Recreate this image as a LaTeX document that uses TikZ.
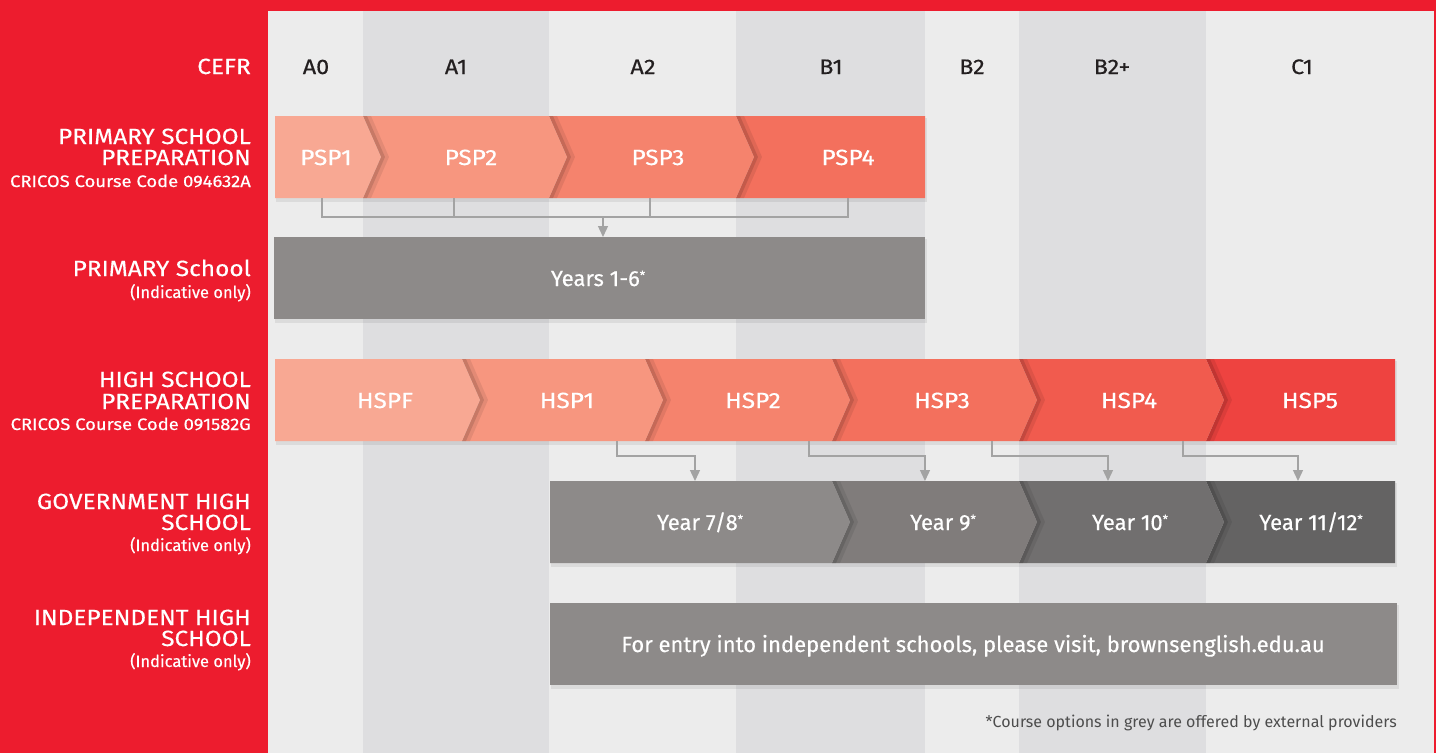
\documentclass[tikz,border=0pt]{standalone}
\usepackage{fontspec}
\setmainfont{Fira Sans}[FakeBold=0.4]
\newfontfamily\capsf{Fira Sans}[FakeStretch=1.11,FakeBold=0.4]
\newfontfamily\notef{Fira Sans}
\usetikzlibrary{arrows.meta}
\definecolor{redbg}{RGB}{237,28,46}
\definecolor{lightcol}{RGB}{236,236,236}
\definecolor{darkcol}{RGB}{222,222,224}
\definecolor{sa}{RGB}{248,168,147}
\definecolor{sb}{RGB}{247,150,127}
\definecolor{sc}{RGB}{245,131,109}
\definecolor{sd}{RGB}{243,112,93}
\definecolor{se}{RGB}{241,91,78}
\definecolor{sf}{RGB}{238,67,64}
\definecolor{ga}{RGB}{141,138,137}
\definecolor{gb}{RGB}{128,124,123}
\definecolor{gc}{RGB}{113,111,111}
\definecolor{gd}{RGB}{100,99,99}
\definecolor{conncol}{RGB}{163,163,163}
\definecolor{coltxt}{RGB}{35,31,32}
\definecolor{notetxt}{RGB}{77,77,77}
\newcommand\chevseg[7]{%
  \fill[#7] (#1,#3) -- (#2,#3) -- ({#2+#6},{(#3+#4)/2}) -- (#2,#4) -- (#1,#4) -- ({#1+#5},{(#3+#4)/2}) -- cycle;}
\newcommand\chevshadow[4]{%
  \fill[black,opacity=.08] (#1,#2) -- ({#1+8},#2) -- ({#1+#4+8},{(#2+#3)/2}) -- ({#1+8},#3) -- (#1,#3) -- cycle;
  \fill[black,opacity=.12] (#1,#2) -- ({#1+4},#2) -- ({#1+#4+4},{(#2+#3)/2}) -- ({#1+4},#3) -- (#1,#3) -- cycle;}
\newcommand\barshadow[4]{%
  \fill[black,opacity=.07] ({#1+1},{#2+2}) rectangle ({#3+2},{#4+4});}
\newcommand\sast{\raisebox{6.5pt}{\fontsize{12}{12}\selectfont*}}
\tikzset{
  lbl/.style={text=white,anchor=base east,inner sep=0,font=\capsf\fontsize{22}{22}\selectfont},
  lblsub/.style={text=white,anchor=base east,inner sep=0,font=\fontsize{16.5}{16.5}\selectfont},
  lblcode/.style={text=white,anchor=base east,inner sep=0,font=\capsf\fontsize{16.6}{16.6}\selectfont},
  coltitle/.style={text=coltxt,anchor=base,inner sep=0,font=\capsf\fontsize{21}{21}\selectfont},
  bartxt/.style={text=white,anchor=base,inner sep=0,font=\fontsize{22}{22}\selectfont},
  barcaps/.style={bartxt,font=\capsf\fontsize{22}{22}\selectfont},
  conn/.style={draw=conncol,line width=1.3pt},
  connarrow/.style={conn,-{Triangle[width=10pt,length=11pt]}},
  boxshape/.style={inner sep=0,anchor=north west},
}
\begin{document}
\begin{tikzpicture}[x=1pt,y=-1pt]
\useasboundingbox (0,0) rectangle (1436,753);
\fill[redbg] (0,0) rectangle (1436,753);
\fill[lightcol] (268,11) rectangle (1434,753);
\foreach \a/\b in {363/549,736/925,1019/1206} \fill[darkcol] (\a,11) rectangle (\b,753);

% left labels
\node[lbl] (cefr) at (251,74) {CEFR};
\node[lbl] (psl1) at (251,144) {PRIMARY SCHOOL};
\node[lbl] (psl2) at (251,165) {PREPARATION};
\node[lblcode] (psl3) at (251,187) {CRICOS Course Code 094632A};
\node[lbl] (prl1) at (251,276) {PRIMARY School};
\node[lblsub] (prl2) at (251,298) {(Indicative only)};
\node[lbl] (hsl1) at (251,387) {HIGH SCHOOL};
\node[lbl] (hsl2) at (251,409) {PREPARATION};
\node[lblcode] (hsl3) at (251,430) {CRICOS Course Code 091582G};
\node[lbl] (gvl1) at (251,509) {GOVERNMENT HIGH};
\node[lbl] (gvl2) at (251,530) {SCHOOL};
\node[lblsub] (gvl3) at (251,551) {(Indicative only)};
\node[lbl] (inl1) at (251,625) {INDEPENDENT HIGH};
\node[lbl] (inl2) at (251,646) {SCHOOL};
\node[lblsub] (inl3) at (251,667) {(Indicative only)};

% column titles
\node[coltitle] (ca0) at (316,74) {A0};
\node[coltitle] (ca1) at (456,74) {A1};
\node[coltitle] (ca2) at (643,74) {A2};
\node[coltitle] (cb1) at (831,74) {B1};
\node[coltitle] (cb2) at (972,74) {B2};
\node[coltitle] (cb2p) at (1112,74) {B2+};
\node[coltitle] (cc1) at (1302,74) {C1};

% PSP row
\barshadow{275}{116}{925}{198}
\chevseg{736}{925}{116}{198}{18}{0}{sd}
\chevshadow{736}{116}{198}{18}
\chevseg{549}{736}{116}{198}{18}{18}{sc}
\chevshadow{549}{116}{198}{18}
\chevseg{363}{549}{116}{198}{18}{18}{sb}
\chevshadow{363}{116}{198}{18}
\chevseg{275}{363}{116}{198}{0}{18}{sa}
\node[barcaps] (psp1) at (326,165) {PSP1};
\node[barcaps] (psp2) at (471,165) {PSP2};
\node[barcaps] (psp3) at (658,165) {PSP3};
\node[barcaps] (psp4) at (848,165) {PSP4};

% Primary school box
\barshadow{274}{237}{925}{319}
\node[boxshape,fill=ga,minimum width=651pt,minimum height=82pt] (prim) at (274,237) {};
\node[bartxt] (primtxt) at (598,286) {Years 1-6\sast};

% PSP connectors
\coordinate (p1b) at (322,198);
\coordinate (p2b) at (454,198);
\coordinate (p3b) at (650,198);
\coordinate (p4b) at (848,198);
\coordinate (pj1) at (322,217);
\coordinate (pj4) at (848,217);
\coordinate (pja) at (603,217);
\draw[conn] (p1b) -- (pj1) -- (pj4) -- (p4b);
\draw[conn] (p2b) -- (p2b |- pj1);
\draw[conn] (p3b) -- (p3b |- pj1);
\draw[connarrow] (pja) -- (pja |- prim.north);

% HSP row
\barshadow{275}{359}{1395}{441}
\chevseg{1206}{1395}{359}{441}{18}{0}{sf}
\chevshadow{1206}{359}{441}{18}
\chevseg{1019}{1206}{359}{441}{18}{18}{se}
\chevshadow{1019}{359}{441}{18}
\chevseg{832}{1019}{359}{441}{18}{18}{sd}
\chevshadow{832}{359}{441}{18}
\chevseg{645}{832}{359}{441}{18}{18}{sc}
\chevshadow{645}{359}{441}{18}
\chevseg{462}{645}{359}{441}{18}{18}{sb}
\chevshadow{462}{359}{441}{18}
\chevseg{275}{462}{359}{441}{0}{18}{sa}
\node[barcaps] (hspf) at (385,408) {HSPF};
\node[barcaps] (hsp1) at (567,408) {HSP1};
\node[barcaps] (hsp2) at (753,408) {HSP2};
\node[barcaps] (hsp3) at (942,408) {HSP3};
\node[barcaps] (hsp4) at (1129,408) {HSP4};
\node[barcaps] (hsp5) at (1310,408) {HSP5};

% Government row
\barshadow{550}{481}{1395}{563}
\chevseg{1206}{1395}{481}{563}{18}{0}{gd}
\chevshadow{1206}{481}{563}{18}
\chevseg{1019}{1206}{481}{563}{18}{18}{gc}
\chevshadow{1019}{481}{563}{18}
\chevseg{832}{1019}{481}{563}{18}{18}{gb}
\chevshadow{832}{481}{563}{18}
\chevseg{550}{832}{481}{563}{0}{18}{ga}
\node[bartxt] (y78) at (700,530) {Year 7/8\sast};
\node[bartxt] (y9) at (943,530) {Year 9\sast};
\node[bartxt] (y10) at (1130,530) {Year 10\sast};
\node[bartxt] (y1112) at (1311,530) {Year 11/12\sast};

% HSP connectors
\coordinate (h1b) at (617,441);
\coordinate (h1t) at (695,481);
\coordinate (h2b) at (809,441);
\coordinate (h2t) at (925,481);
\coordinate (h3b) at (992,441);
\coordinate (h3t) at (1108,481);
\coordinate (h4b) at (1183,441);
\coordinate (h4t) at (1298,481);
\foreach \b/\t in {h1b/h1t,h2b/h2t,h3b/h3t,h4b/h4t}
  \draw[connarrow] (\b) -- ++(0,15) -| (\t);

% Independent row
\barshadow{550}{603}{1397}{685}
\node[boxshape,fill=ga,minimum width=847pt,minimum height=82pt] (indep) at (550,603) {};
\node[bartxt] (indtxt) at (973,652) {For entry into independent schools, please visit, brownsenglish.edu.au};

% footnote
\node[text=notetxt,anchor=base east,inner sep=0,font=\notef\fontsize{16}{16}\selectfont] (note) at (1397,727) {*Course options in grey are offered by external providers};
\end{tikzpicture}
\end{document}
